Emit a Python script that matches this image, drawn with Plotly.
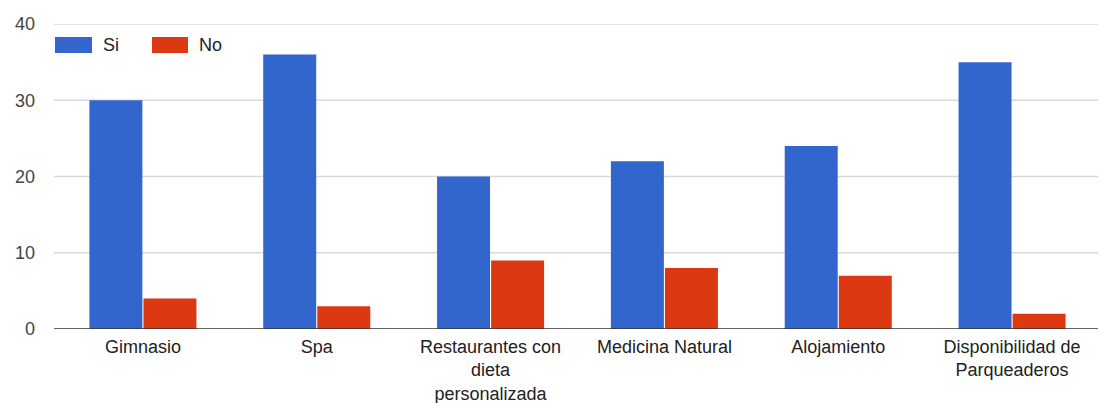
import plotly.graph_objects as go

categories = ["Gimnasio", "Spa", "Restaurantes con<br>dieta<br>personalizada",
              "Medicina Natural", "Alojamiento", "Disponibilidad de<br>Parqueaderos"]
si_values = [30, 36, 20, 22, 24, 35]
no_values = [4, 3, 9, 8, 7, 2]
y_ticks = [0, 10, 20, 30, 40]
series_names = ["Si", "No"]

BLUE = "#3366cc"
RED = "#dc3912"
FONT = "Liberation Sans, Arial, sans-serif"

OFF = 8  # default page body margin
W, H = 1106 - OFF, 403 - OFF
L, R, T, B = 56 - OFF, 7, 24 - OFF, 74
PW = W - L - R
PH = H - T - B

def px(x):
    return (x - OFF - L) / PW

def py(y):
    return (H - B - (y - OFF)) / PH

fig = go.Figure()
fig.add_trace(go.Bar(x=categories, y=si_values, name=series_names[0],
                     marker=dict(color=BLUE, line=dict(width=0)), showlegend=False))
fig.add_trace(go.Bar(x=categories, y=no_values, name=series_names[1],
                     marker=dict(color=RED, line=dict(width=0)), showlegend=False))

shapes = [
    dict(type="rect", xref="paper", yref="paper", x0=px(55), x1=px(92), y0=py(53), y1=py(37),
         fillcolor=BLUE, line=dict(width=0)),
    dict(type="rect", xref="paper", yref="paper", x0=px(152), x1=px(188), y0=py(53), y1=py(37),
         fillcolor=RED, line=dict(width=0)),
    dict(type="line", xref="paper", yref="y", x0=px(54), x1=px(1106), y0=0, y1=0,
         line=dict(color="#333333", width=1.5)),
]
for v in y_ticks[1:]:
    shapes.append(dict(type="line", xref="paper", yref="y", x0=px(54), x1=px(1106), y0=v, y1=v,
                       line=dict(color="#d9d9d9", width=1.5), layer="below"))

annotations = [
    dict(xref="paper", yref="paper", x=px(101), y=py(45), text=series_names[0], showarrow=False,
         xanchor="left", yanchor="middle", font=dict(family=FONT, size=18, color="#222222")),
    dict(xref="paper", yref="paper", x=px(197), y=py(45), text=series_names[1], showarrow=False,
         xanchor="left", yanchor="middle", font=dict(family=FONT, size=18, color="#222222")),
]

fig.update_layout(
    width=W, height=H,
    margin=dict(l=L, r=R, t=T, b=B, pad=0, autoexpand=False),
    paper_bgcolor="white", plot_bgcolor="white",
    barmode="group", bargap=0.378, bargroupgap=0.02,
    font=dict(family=FONT, size=18, color="#222222"),
    shapes=shapes, annotations=annotations,
    xaxis=dict(showgrid=False, showline=False, ticks="", tickangle=0, automargin=False,
               ticklabelstandoff=5,
               tickfont=dict(family=FONT, size=18, color="#222222")),
    yaxis=dict(range=[0, 40], tickvals=y_ticks, showgrid=False,
               zeroline=False, showline=False, ticks="", automargin=False,
               ticklabelstandoff=20,
               tickfont=dict(family=FONT, size=18, color="#444444")),
)

fig.write_html("out.html")
